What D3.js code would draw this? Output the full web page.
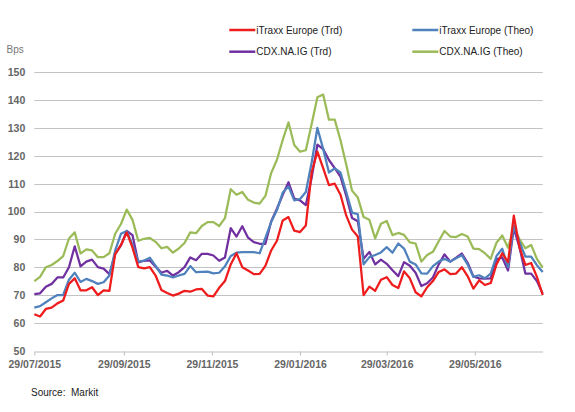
<!DOCTYPE html>
<html>
<head>
<meta charset="utf-8">
<script src="https://cdn.jsdelivr.net/npm/d3@7"></script>
<style>
  html, body { margin: 0; padding: 0; background: #fff; }
  svg { display: block; font-family: "Liberation Sans", Arial, sans-serif; }
</style>
</head>
<body>
<svg id="chart" width="575" height="412"></svg>
<script>
// ---- data ----
const dates = [
  "2015-07-29","2015-08-02","2015-08-06","2015-08-10","2015-08-14","2015-08-18","2015-08-22","2015-08-26","2015-08-30",
  "2015-09-03","2015-09-07","2015-09-11","2015-09-15","2015-09-19","2015-09-23","2015-09-27","2015-10-01","2015-10-05",
  "2015-10-09","2015-10-13","2015-10-17","2015-10-21","2015-10-25","2015-10-29","2015-11-02","2015-11-06","2015-11-10",
  "2015-11-14","2015-11-18","2015-11-22","2015-11-26","2015-11-30","2015-12-04","2015-12-08","2015-12-12","2015-12-16",
  "2015-12-20","2015-12-24","2015-12-28","2016-01-01","2016-01-05","2016-01-09","2016-01-13","2016-01-17","2016-01-21",
  "2016-01-25","2016-01-29","2016-02-02","2016-02-06","2016-02-10","2016-02-14","2016-02-18","2016-02-22","2016-02-26",
  "2016-03-01","2016-03-05","2016-03-09","2016-03-13","2016-03-17","2016-03-21","2016-03-25","2016-03-29","2016-04-02",
  "2016-04-06","2016-04-10","2016-04-14","2016-04-18","2016-04-22","2016-04-26","2016-04-30","2016-05-04","2016-05-08",
  "2016-05-12","2016-05-16","2016-05-20","2016-05-24","2016-05-28","2016-06-01","2016-06-05","2016-06-09","2016-06-13",
  "2016-06-17","2016-06-21","2016-06-25","2016-06-29","2016-07-03","2016-07-07","2016-07-11","2016-07-15"
];
const itraxxTrd = [63.1,62.3,65,65.5,67,68,74,76,71.7,71.7,72.8,70,71.7,71.5,84.7,88,92.5,87,80,79.6,80,77,71.8,70.7,69.8,70.5,71.5,71.2,72,72.2,69.8,69.5,72.6,75,81,85,80,78.8,77.5,77.6,80.5,86,89.5,96.8,98,93.1,92.6,95,114,121.5,115.6,109.5,110,106,98.5,93.5,91,70,73,71.5,75.5,76.4,73.6,72.5,78.5,76,71,69.5,72.8,75,78.3,79.2,77.5,77.7,80,76.8,72.3,75.3,73.6,74.3,81,85,81.8,98.5,87,80.8,81.5,76.5,70];
const itraxxTheo = [65.5,66,67.4,68.8,70,70,75.5,78,74.7,75.8,75,74,74.6,77,86,92,93,88,82,82.4,83.4,80.5,77.3,77,76.3,77,77.6,80.4,78.2,78.3,78.4,77.8,78,80.3,84,85.2,85.4,85.4,85.4,85,90.5,96.2,100.5,106.8,109,104,104.5,107,117.5,130,122.5,114,115.5,114,107,99.6,99,81,83.6,84.4,85.3,87.2,85.2,88.5,86.7,82,81,77.8,77.7,80.4,82,83,82,83.2,84.3,81,76.5,77.1,76,77.7,84,86.6,80,95,89,83.8,83.8,80.7,78.3];
const cdxTrd = [70.3,70.6,73,74,76.3,76.3,80,87.5,80.3,82,82.7,80,79.5,77.5,84.7,87.8,93,91.5,81.7,82.3,82.4,80.2,78,78.7,77,78.2,80,83.5,82.5,84.8,84.8,84.2,82.3,83.5,94,91,94.7,90.6,89,88.4,88.4,96.4,101,106,110.5,104.6,104,102.3,112,124,122.4,118.5,115.6,112.5,105.6,97.7,96.5,83,85.5,81,82.7,81.2,78.9,76.8,81.8,80.5,78,73.2,74.2,76.3,81,84.6,82,83.4,84.9,81.6,76.7,76,75.9,76,82.8,83.5,78.8,94,87,77.7,77.7,75,70.5];
const cdxTheo = [75,76.5,80,80.8,82.2,84,90.3,92.5,84.9,86.4,86,83.6,83.6,85,92,95.5,100.7,97,89.5,90.2,90.5,89.1,86.8,87.3,85.2,86.7,88.7,92.5,92.2,94.8,96.2,96.2,94.8,97.6,108,106,107,104.2,103.2,102.8,105.6,113.8,118.6,125.7,132,123.9,121.5,122,131.3,141,142,133,133,125.6,116.8,107.5,105,98,97,90.3,95.6,96.6,91.5,92.3,91.6,88.9,88.5,82,84.4,85.5,89.3,93,91,90.8,91.9,91,86.7,86.5,85,83,88.8,91.4,87,94,90,86.8,88,83,79.8];

const seriesNames = ["iTraxx Europe (Trd)", "iTraxx Europe (Theo)", "CDX.NA.IG (Trd)", "CDX.NA.IG (Theo)"];
const seriesColors = ["#ee1c1c", "#4f81bd", "#7030a0", "#9bbb59"];
const xTickDates = ["2015-07-29","2015-09-29","2015-11-29","2016-01-29","2016-03-29","2016-05-29"];
const xDomain = ["2015-07-29", "2016-07-15"];
const yTicks = [50,60,70,80,90,100,110,120,130,140,150];
const yLabel = "Bps";
const sourceText = "Source:  Markit";

// ---- chart ----
(function () {
const parse = d3.timeParse("%Y-%m-%d");
const fmt = d3.timeFormat("%d/%m/%Y");
const svg = d3.select("#chart");
svg.append("rect").attr("width", 575).attr("height", 412).attr("fill", "#fff");

const plotL = 34.3, plotR = 542.7, plotT = 72.3, plotB = 350.7;
const x = d3.scaleTime().domain(xDomain.map(parse)).range([plotL, plotR]);
const y = d3.scaleLinear().domain([50, 150]).range([plotB, plotT]);

// gridlines
svg.append("g").selectAll("line").data(yTicks.filter(v => v > 50)).join("line")
  .attr("x1", plotL).attr("x2", plotR)
  .attr("y1", d => Math.round(y(d)) + 0.5).attr("y2", d => Math.round(y(d)) + 0.5)
  .attr("stroke", "#c3c3c3").attr("stroke-width", 1);

// y axis labels
const yAxis = d3.axisLeft(y).tickValues(yTicks).tickSize(0).tickPadding(9);
const gy = svg.append("g").attr("transform", `translate(${plotL},0)`).call(yAxis);
gy.select(".domain").remove();
gy.selectAll("text").attr("fill", "#666").attr("font-size", 10.5).attr("font-weight", "bold")
  .attr("font-family", "Liberation Sans, Arial, sans-serif");

// x axis
const xAxis = d3.axisBottom(x).tickValues(xTickDates.map(parse)).tickFormat(fmt).tickSize(4).tickSizeOuter(0).tickPadding(5);
const gx = svg.append("g").attr("transform", `translate(0,${Math.round(plotB) + 0.5})`).call(xAxis);
gx.select(".domain").attr("stroke", "#bfbfbf");
gx.selectAll(".tick line").attr("stroke", "#bfbfbf");
gx.selectAll("text").attr("fill", "#666").attr("font-size", 10.5).attr("font-weight", "bold")
  .attr("font-family", "Liberation Sans, Arial, sans-serif");

// y label
svg.append("text").attr("x", 6.5).attr("y", 52.5).text(yLabel)
  .attr("fill", "#777").attr("font-size", 10);

// lines
const parsedDates = dates.map(parse);
const allSeries = [itraxxTrd, itraxxTheo, cdxTrd, cdxTheo];
const line = d3.line().x((d, i) => x(parsedDates[i])).y(d => y(d));
const drawOrder = [3, 2, 1, 0];
svg.append("g").selectAll("path").data(drawOrder).join("path")
  .attr("d", i => line(allSeries[i]))
  .attr("fill", "none")
  .attr("stroke", i => seriesColors[i])
  .attr("stroke-width", 2.25)
  .attr("stroke-linejoin", "round");

// legend
const legendPos = [[229.3, 30], [412.3, 30], [229.3, 51.7], [412.3, 51.7]];
const lg = svg.append("g").selectAll("g").data(seriesNames).join("g")
  .attr("transform", (d, i) => `translate(${legendPos[i][0]},${legendPos[i][1]})`);
lg.append("line").attr("x1", 0).attr("x2", 26).attr("y1", 0).attr("y2", 0)
  .attr("stroke", (d, i) => seriesColors[i]).attr("stroke-width", 2.5);
lg.append("text").attr("x", 27).attr("y", 3.6).text(d => d)
  .attr("font-size", 10).attr("fill", "#222");

// source
svg.append("text").attr("x", 31).attr("y", 396).text(sourceText)
  .attr("font-size", 10).attr("fill", "#222").style("white-space", "pre");
})();
</script>
</body>
</html>
